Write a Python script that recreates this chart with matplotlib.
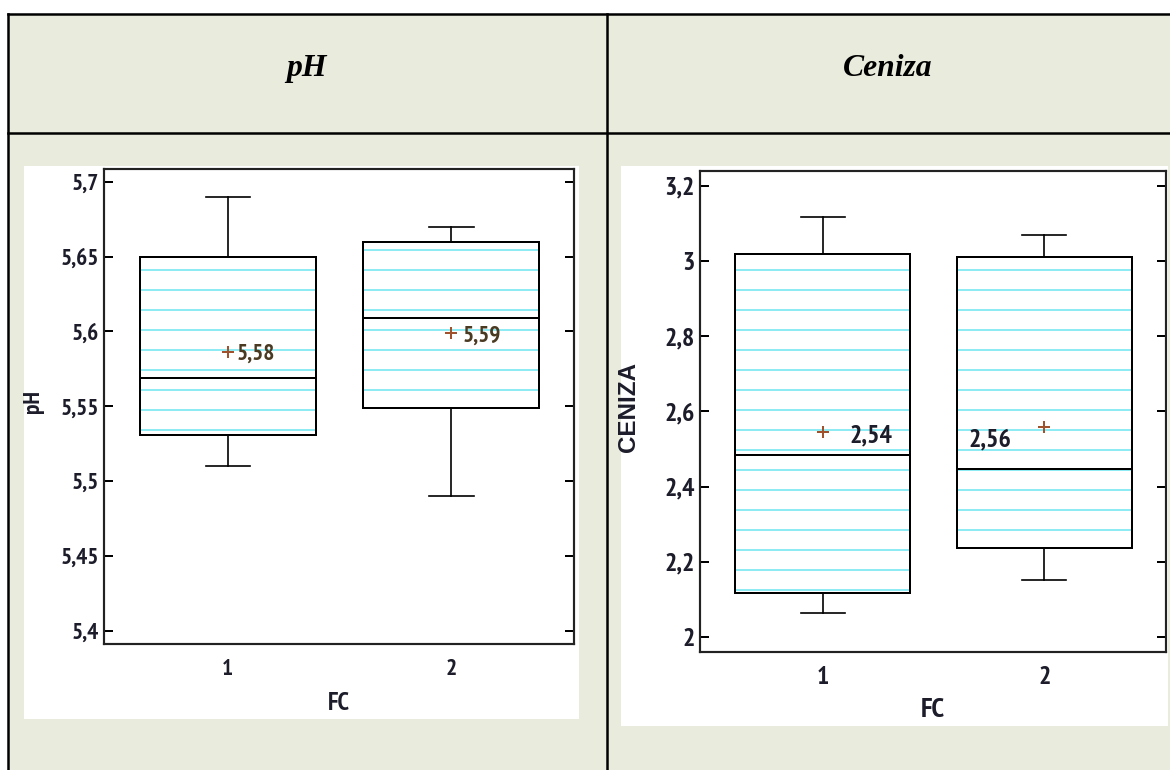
import matplotlib
matplotlib.use("Agg")
import matplotlib.pyplot as plt
from matplotlib.patches import Rectangle, PathPatch
from matplotlib.lines import Line2D

groups = [1, 2]
group_labels = ["1", "2"]

ph_q1 = [5.531, 5.549]
ph_med = [5.569, 5.609]
ph_q3 = [5.650, 5.660]
ph_lo = [5.510, 5.490]
ph_hi = [5.690, 5.670]
ph_mean = [5.586, 5.599]
ph_mean_labels = ["5,58", "5,59"]
ph_ticks = [5.4, 5.45, 5.5, 5.55, 5.6, 5.65, 5.7]
ph_ticklabels = ["5,4", "5,45", "5,5", "5,55", "5,6", "5,65", "5,7"]

ceniza_q1 = [2.118, 2.237]
ceniza_med = [2.484, 2.447]
ceniza_q3 = [3.018, 3.010]
ceniza_lo = [2.063, 2.152]
ceniza_hi = [3.118, 3.068]
ceniza_mean = [2.546, 2.558]
ceniza_mean_labels = ["2,54", "2,56"]
ceniza_ticks = [2.0, 2.2, 2.4, 2.6, 2.8, 3.0, 3.2]
ceniza_ticklabels = ["2", "2,2", "2,4", "2,6", "2,8", "3", "3,2"]

W, H, DPI = 1170, 770, 120
BEIGE = "#e9ecdc"
CYAN = "#86eaf2"
BROWN = "#a0522d"
TXT = "#1c1c2a"
NARROW = ["Liberation Sans Narrow", "Arial Narrow", "PT Sans Narrow",
          "Archivo Narrow", "Roboto Condensed", "Encode Sans Condensed",
          "DejaVu Sans"]

plt.rcParams["hatch.linewidth"] = 1.1


def fx(px):
    return px / W


def fy(py):
    return 1 - py / H


def draw_panel(ax, q1, med, q3, lo, hi, mean, mean_labels, label_offsets,
               ticks, ticklabels, ylim, ylabel, label_color, fsize):
    stats = []
    for i in range(len(groups)):
        stats.append(dict(q1=q1[i], med=med[i], q3=q3[i], whislo=lo[i],
                          whishi=hi[i], mean=mean[i], fliers=[]))
    res = ax.bxp(stats, positions=groups, widths=0.79, capwidths=0.2,
                 patch_artist=True, showmeans=True,
                 boxprops=dict(facecolor="white", edgecolor=CYAN,
                               hatch="-", linewidth=0),
                 whiskerprops=dict(color="black", linewidth=1.0),
                 capprops=dict(color="black", linewidth=1.0),
                 medianprops=dict(color="black", linewidth=1.2, zorder=3),
                 meanprops=dict(marker="+", markeredgecolor=BROWN,
                                markersize=7, markeredgewidth=1.2, zorder=4))
    for box in res["boxes"]:
        ax.add_patch(PathPatch(box.get_path(), transform=box.get_transform(),
                               fill=False, edgecolor="black", linewidth=1.2,
                               zorder=2.5))
    for i, txt in enumerate(mean_labels):
        dx, dy, ha = label_offsets[i]
        ax.annotate(txt, (groups[i], mean[i]), xytext=(dx, dy),
                    textcoords="offset points", ha=ha, va="center",
                    fontsize=fsize, fontweight="bold", family=NARROW,
                    color=label_color)

    ax.set_xlim(0.445, 2.55)
    ax.set_ylim(*ylim)
    ax.set_yticks(ticks)
    ax.set_yticklabels(ticklabels, fontsize=fsize, fontweight="bold",
                       family=NARROW, color=TXT)
    ax.set_xticks(groups)
    ax.set_xticklabels(group_labels, fontsize=fsize, fontweight="bold",
                       family=NARROW, color=TXT)
    ax.tick_params(axis="y", direction="in", length=5.5, width=1.2,
                   left=True, right=True, pad=3)
    ax.tick_params(axis="x", length=0, pad=9)
    for sp in ax.spines.values():
        sp.set_linewidth(1.3)
        sp.set_color("#222222")
    ax.set_xlabel("FC", fontsize=fsize + 1, fontweight="bold", family=NARROW,
                  color=TXT)
    ax.set_ylabel(ylabel, fontsize=fsize, fontweight="bold", color=TXT)


fig = plt.figure(figsize=(W / DPI, H / DPI), dpi=DPI)
fig.patch.set_facecolor("white")

# table background and borders
fig.patches.append(Rectangle((fx(8), 0), 1 - fx(8), fy(14), transform=fig.transFigure,
                             facecolor=BEIGE, edgecolor="none", zorder=-3))
border = dict(transform=fig.transFigure, color="black", linewidth=1.5, zorder=-1)
fig.lines.append(Line2D([fx(8), 1], [fy(14), fy(14)], **border))
fig.lines.append(Line2D([fx(8), 1], [fy(133), fy(133)], **border))
fig.lines.append(Line2D([fx(8), fx(8)], [0, fy(14)], **border))
fig.lines.append(Line2D([fx(607), fx(607)], [0, fy(14)], **border))

# white panels behind the charts
fig.patches.append(Rectangle((fx(24), fy(719)), fx(579 - 24), (719 - 166) / H,
                             transform=fig.transFigure, facecolor="white",
                             edgecolor="none", zorder=-2))
fig.patches.append(Rectangle((fx(621), fy(726)), fx(1168 - 621), (726 - 166) / H,
                             transform=fig.transFigure, facecolor="white",
                             edgecolor="none", zorder=-2))

header = dict(fontsize=19, fontweight="bold", fontstyle="italic",
              family="Liberation Serif", ha="center", va="baseline")
fig.text(fx(307), fy(76), "pH", **header)
fig.text(fx(888), fy(76), "Ceniza", **header)

ax1 = fig.add_axes([fx(104), fy(644), fx(574 - 104), (644 - 168.5) / H])
draw_panel(ax1, ph_q1, ph_med, ph_q3, ph_lo, ph_hi, ph_mean, ph_mean_labels,
           [(5, -1, "left"), (7, -2, "left")],
           ph_ticks, ph_ticklabels, (5.391, 5.709), "pH", "#4a3a22", 14)
ax1.yaxis.set_label_coords(-0.128, 0.51)
ax1.xaxis.set_label_coords(0.5, -0.1)
ax1.yaxis.label.set_family(NARROW)
ax1.yaxis.label.set_fontsize(14)

ax2 = fig.add_axes([fx(700), fy(651.5), fx(1166 - 700), (651.5 - 171.4) / H])
draw_panel(ax2, ceniza_q1, ceniza_med, ceniza_q3, ceniza_lo, ceniza_hi,
           ceniza_mean, ceniza_mean_labels,
           [(16, -2.6, "left"), (-20, -7.6, "right")],
           ceniza_ticks, ceniza_ticklabels, (1.962, 3.238), "CENIZA",
           "#1c1c2a", 15.5)
ax2.yaxis.set_label_coords(-0.129, 0.51)
ax2.xaxis.set_label_coords(0.5, -0.097)
ax2.yaxis.label.set_family(["Liberation Sans", "DejaVu Sans"])
ax2.yaxis.label.set_fontsize(14.5)

fig.savefig("out.png", dpi=DPI)
